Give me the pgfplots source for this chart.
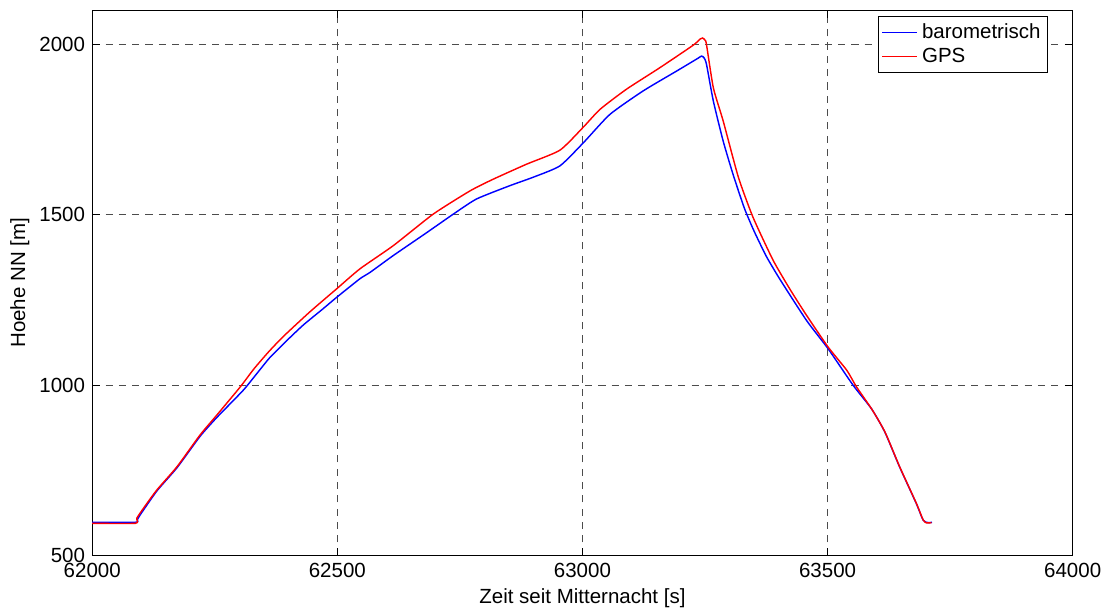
\documentclass[border=0pt]{standalone}
\usepackage{fontspec}
\setmainfont{Liberation Sans}
\usepackage{pgfplots}
\pgfplotsset{compat=1.18}
\begin{document}
\begin{tikzpicture}
\begin{axis}[
  scale only axis,
  width=478.5pt, height=266.3pt,
  xmin=62000, xmax=64000, ymin=500, ymax=2100,
  xtick={62000,62500,63000,63500,64000},
  ytick={500,1000,1500,2000},
  scaled x ticks=false, scaled y ticks=false,
  /pgf/number format/.cd, set thousands separator={}, assume math mode=true,
  /pgfplots/.cd,
  tick align=inside,
  major tick length=4pt,
  tick style={black, line width=0.5pt},
  axis line style={black, line width=0.5pt},
  grid=major,
  major grid style={black!70, dash pattern=on 3.5pt off 3pt, line width=0.5pt},
  tick label style={font=\fontsize{10}{12}\selectfont},
  label style={font=\fontsize{10}{12}\selectfont},
  xlabel={Zeit seit Mitternacht [s]},
  ylabel={Hoehe NN [m]},
  xlabel style={yshift=1.5pt},
  ylabel style={yshift=-2pt},
  legend style={at={(rel axis cs:0.975,0.989)}, anchor=north east, draw=black, line width=0.5pt,
    font=\fontsize{10}{12}\selectfont, inner sep=1.5pt, row sep=-1pt, cells={anchor=west}},
  legend cell align=left,
]
\addlegendimage{blue, line width=0.8pt}
\addlegendentry{barometrisch}
\addlegendimage{red, line width=0.8pt}
\addlegendentry{GPS}
\addplot[blue, line width=0.7pt, smooth, tension=0.35, forget plot] coordinates {
(62000,598)(62088,598)(62092,605)(62098,620)(62132,690)(62173,758)(62220,850)
(62254,905)(62308,985)(62338,1038)(62363,1082)(62400,1135)(62431,1177)(62470,1223)
(62499,1258)(62546,1312)(62567,1331)(62614,1380)(62680,1445)(62737,1502)(62784,1546)
(62852,1585)(62900,1610)(62954,1643)(63002,1711)(63056,1794)(63124,1863)(63192,1921)
(63235,1958)(63243,1965)(63248,1960)(63253,1941)(63267,1833)(63287,1716)(63307,1619)
(63330,1520)(63350,1452)(63375,1378)(63403,1310)(63457,1190)(63501,1107)(63552,1000)(63590,930)
(63617,862)(63647,760)(63681,653)(63695,604)(63705,597)(63713,598)
};
\addplot[red, line width=0.7pt, smooth, tension=0.35, forget plot] coordinates {
(62000,595)(62088,595)(62091,610)(62105,640)(62132,693)(62173,761)(62220,854)
(62254,912)(62302,995)(62330,1048)(62360,1098)(62390,1143)(62444,1215)(62499,1283)
(62546,1341)(62614,1409)(62696,1502)(62771,1570)(62818,1604)(62886,1648)(62954,1689)
(63002,1757)(63036,1809)(63090,1868)(63158,1931)(63226,1997)(63240,2015)(63245,2018)
(63250,2012)(63253,1999)(63267,1872)(63287,1775)(63318,1610)(63348,1492)(63389,1366)
(63423,1282)(63457,1205)(63501,1112)(63539,1044)(63559,995)(63590,930)(63617,863)
(63647,761)(63681,654)(63695,605)(63702,596)(63712,597)
};
\end{axis}
\path (current axis.south west) ++(-45pt,-27.8pt) coordinate (bl);
\path (current axis.north east) ++(17pt,4.9pt) coordinate (tr);
\path (bl) rectangle (tr);
\end{tikzpicture}
\end{document}
